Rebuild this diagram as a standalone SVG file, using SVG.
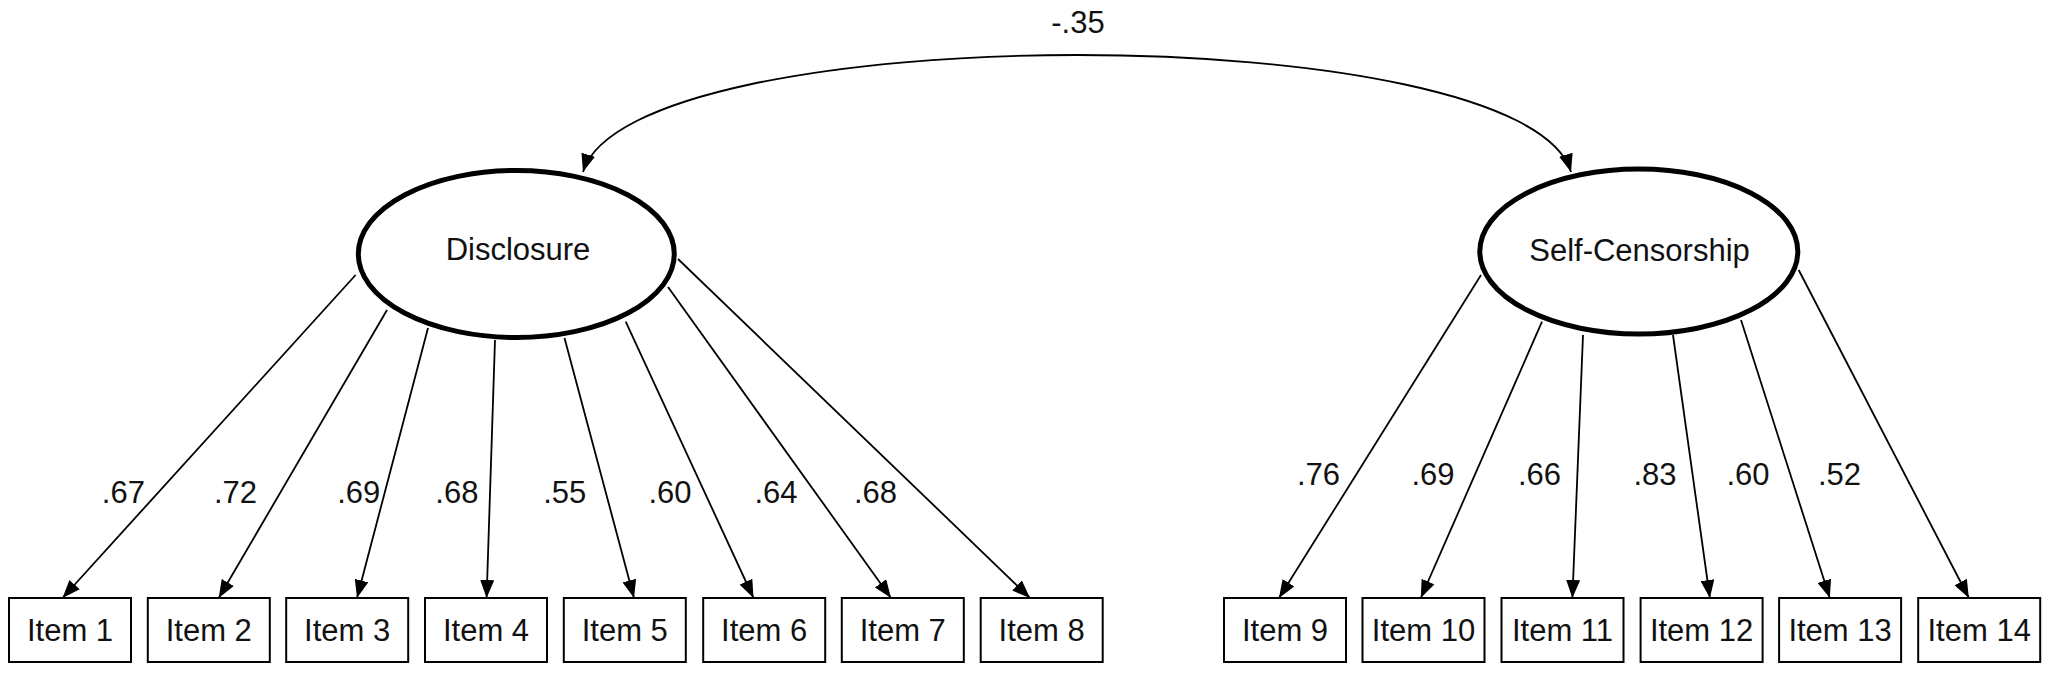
<svg xmlns="http://www.w3.org/2000/svg" width="2055" height="674" viewBox="0 0 2055 674">
<defs>
<marker id="arr" viewBox="0 0 18 14" refX="18" refY="7" markerWidth="18" markerHeight="14" markerUnits="userSpaceOnUse" orient="auto-start-reverse">
<path d="M0,0 L18,7 L0,14 Z" fill="#000"/>
</marker>
<style>
text{font-family:"Liberation Sans",Arial,sans-serif;font-size:31px;fill:#111;text-anchor:middle}
.box{fill:#fff;stroke:#000;stroke-width:2}
.lat{fill:#fff;stroke:#000;stroke-width:5}
.ln{fill:none;stroke:#000;stroke-width:1.8;marker-end:url(#arr)}
.bi{marker-start:url(#arr)}
</style>
</defs>
<rect width="2055" height="674" fill="#fff"/>
<g id="connectors">
<path class="ln bi" d="M583,172 C630,16 1525,16 1571,172"/>
<line class="ln" x1="355.6" y1="275" x2="62.5" y2="598"/>
<line class="ln" x1="387" y1="310" x2="218.7" y2="598"/>
<line class="ln" x1="428" y1="328" x2="357" y2="598"/>
<line class="ln" x1="495" y1="340" x2="486.6" y2="598"/>
<line class="ln" x1="564.5" y1="338" x2="634" y2="598"/>
<line class="ln" x1="625.7" y1="321.7" x2="753.5" y2="598"/>
<line class="ln" x1="668" y1="287" x2="891" y2="598"/>
<line class="ln" x1="678" y1="259" x2="1030" y2="598"/>
<line class="ln" x1="1481" y1="275" x2="1279" y2="598"/>
<line class="ln" x1="1542" y1="321.7" x2="1420.8" y2="598"/>
<line class="ln" x1="1583" y1="335" x2="1572.4" y2="598"/>
<line class="ln" x1="1673" y1="335" x2="1709.9" y2="598"/>
<line class="ln" x1="1741" y1="320" x2="1829.8" y2="598"/>
<line class="ln" x1="1798.7" y1="270" x2="1968.9" y2="598"/>
<text x="1078" y="33">-.35</text>
<text x="123.4" y="503">.67</text>
<text x="235.5" y="503">.72</text>
<text x="358.7" y="503">.69</text>
<text x="456.9" y="503">.68</text>
<text x="564.7" y="503">.55</text>
<text x="670" y="503">.60</text>
<text x="776" y="503">.64</text>
<text x="875.5" y="503">.68</text>
<text x="1318.5" y="485">.76</text>
<text x="1433" y="485">.69</text>
<text x="1539.5" y="485">.66</text>
<text x="1655" y="485">.83</text>
<text x="1748" y="485">.60</text>
<text x="1839.5" y="485">.52</text>
</g>
<g id="disclosure"><ellipse class="lat" cx="516.3" cy="254" rx="158" ry="83.5"/><text x="518" y="260">Disclosure</text></g>
<g id="selfcensorship"><ellipse class="lat" cx="1638.8" cy="251.5" rx="159" ry="82.5"/><text x="1639.5" y="261">Self-Censorship</text></g>
<g id="item1"><rect class="box" x="9" y="598" width="122" height="64"/><text x="70" y="641">Item 1</text></g>
<g id="item2"><rect class="box" x="147.8" y="598" width="122" height="64"/><text x="208.8" y="641">Item 2</text></g>
<g id="item3"><rect class="box" x="286.2" y="598" width="122" height="64"/><text x="347.2" y="641">Item 3</text></g>
<g id="item4"><rect class="box" x="425" y="598" width="122" height="64"/><text x="486" y="641">Item 4</text></g>
<g id="item5"><rect class="box" x="563.8" y="598" width="122" height="64"/><text x="624.8" y="641">Item 5</text></g>
<g id="item6"><rect class="box" x="703.2" y="598" width="122" height="64"/><text x="764.2" y="641">Item 6</text></g>
<g id="item7"><rect class="box" x="841.8" y="598" width="122" height="64"/><text x="902.8" y="641">Item 7</text></g>
<g id="item8"><rect class="box" x="980.7" y="598" width="122" height="64"/><text x="1041.7" y="641">Item 8</text></g>
<g id="item9"><rect class="box" x="1224" y="598" width="122" height="64"/><text x="1285" y="641">Item 9</text></g>
<g id="item10"><rect class="box" x="1362.5" y="598" width="122" height="64"/><text x="1423.5" y="641">Item 10</text></g>
<g id="item11"><rect class="box" x="1501.5" y="598" width="122" height="64"/><text x="1562.5" y="641">Item 11</text></g>
<g id="item12"><rect class="box" x="1640.6" y="598" width="122" height="64"/><text x="1701.6" y="641">Item 12</text></g>
<g id="item13"><rect class="box" x="1779.1" y="598" width="122" height="64"/><text x="1840.1" y="641">Item 13</text></g>
<g id="item14"><rect class="box" x="1918.2" y="598" width="122" height="64"/><text x="1979.2" y="641">Item 14</text></g>
</svg>
